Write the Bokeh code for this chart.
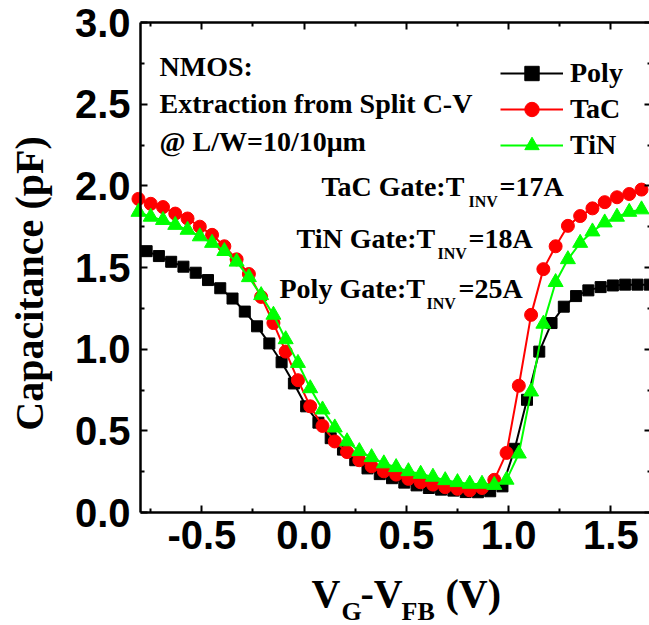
import math

from bokeh.plotting import figure
from bokeh.models import (Range1d, FixedTicker, LinearAxis, Label, Legend,
                          LegendItem, PrintfTickFormatter)
from bokeh.embed import file_html
from bokeh.resources import INLINE

# Gate bias relative to flat band (V) and measured capacitance (pF)
poly_v = [-0.77, -0.71, -0.65, -0.59, -0.53, -0.47, -0.41, -0.35, -0.29, -0.23,
          -0.17, -0.11, -0.05, 0.01, 0.07, 0.13, 0.19, 0.25, 0.31, 0.37,
          0.43, 0.49, 0.55, 0.61, 0.67, 0.73, 0.79, 0.85, 0.91, 0.97,
          1.03, 1.09, 1.15, 1.21, 1.27, 1.33, 1.39, 1.45, 1.51, 1.57,
          1.63, 1.69]
poly_c = [1.60, 1.57, 1.535, 1.505, 1.468, 1.423, 1.373, 1.31, 1.23, 1.14,
          1.035, 0.92, 0.79, 0.65, 0.55, 0.455, 0.385, 0.32, 0.27, 0.235,
          0.21, 0.183, 0.166, 0.15, 0.14, 0.134, 0.125, 0.124, 0.13, 0.16,
          0.39, 0.69, 0.985, 1.16, 1.26, 1.325, 1.36, 1.38, 1.39, 1.395,
          1.395, 1.395]

metal_v = [-0.81, -0.75, -0.69, -0.63, -0.57, -0.51, -0.45, -0.39, -0.33, -0.27,
           -0.21, -0.15, -0.09, -0.03, 0.03, 0.09, 0.15, 0.21, 0.27, 0.33,
           0.39, 0.45, 0.51, 0.57, 0.63, 0.69, 0.75, 0.81, 0.87, 0.93,
           0.99, 1.05, 1.11, 1.17, 1.23, 1.29, 1.35, 1.41, 1.47, 1.53,
           1.59, 1.65]
tac_c = [1.92, 1.89, 1.87, 1.83, 1.80, 1.75, 1.70, 1.63, 1.55, 1.46,
         1.32, 1.16, 0.985, 0.81, 0.65, 0.53, 0.435, 0.37, 0.32, 0.283,
         0.252, 0.232, 0.206, 0.185, 0.171, 0.155, 0.145, 0.136, 0.15, 0.20,
         0.365, 0.776, 1.21, 1.49, 1.63, 1.755, 1.815, 1.862, 1.90, 1.93,
         1.95, 1.977]
tin_c = [1.84, 1.81, 1.79, 1.76, 1.73, 1.69, 1.65, 1.60, 1.535, 1.44,
         1.33, 1.21, 1.06, 0.915, 0.76, 0.63, 0.52, 0.435, 0.375, 0.338,
         0.30, 0.277, 0.252, 0.236, 0.218, 0.197, 0.185, 0.175, 0.175, 0.168,
         0.20, 0.36, 0.74, 1.155, 1.41, 1.55, 1.65, 1.72, 1.775, 1.81,
         1.84, 1.855]

series_names = ["Poly", "TaC", "TiN"]
x_ticks = [-0.5, 0.0, 0.5, 1.0, 1.5]
x_minor = [-0.75, -0.25, 0.25, 0.75, 1.25]
y_ticks = [0.0, 0.5, 1.0, 1.5, 2.0, 2.5, 3.0]
y_minor = [0.25, 0.75, 1.25, 1.75, 2.25, 2.75]
x_bounds = (-0.8, 1.7)
y_bounds = (0.0, 3.0)

W, H = 649, 625
# pixel position of the axes box: left/bottom corner and scale (px per unit)
BOX_L, BOX_B = 140.0, 512.0
PX_X, PX_Y = 204.5, 163.333

SERIF = "Liberation Serif"
SANS = "Liberation Sans"
# distance (in em) by which a label's drawn baseline sits below its anchor
BASELINE_SHIFT = 0.33


def sx(px):
    return x_bounds[0] + (px - BOX_L) / PX_X


def sy(py):
    return y_bounds[0] + (BOX_B - py) / PX_Y


# the frame covers the whole canvas; the axes sit at fixed data locations
p = figure(width=W, height=H, x_range=Range1d(sx(0), sx(W)),
           y_range=Range1d(sy(H), sy(0)), x_axis_type=None, y_axis_type=None,
           output_backend="svg", toolbar_location=None, title=None,
           min_border=0, min_border_left=0, min_border_right=0,
           min_border_top=0, min_border_bottom=0)
p.outline_line_color = None
p.background_fill_color = "white"
p.border_fill_color = "white"


def make_axis(loc, ticks, minor, bounds, labels=True, standoff=8):
    ax = LinearAxis(fixed_location=loc, bounds=bounds,
                    ticker=FixedTicker(ticks=ticks, minor_ticks=minor))
    ax.major_tick_in = 7
    ax.major_tick_out = 0
    ax.minor_tick_in = 4
    ax.minor_tick_out = 0
    ax.major_tick_line_width = 2
    ax.minor_tick_line_width = 2
    ax.major_tick_line_color = "black"
    ax.minor_tick_line_color = "black"
    ax.axis_line_width = 2.5
    ax.axis_line_color = "black"
    if labels:
        ax.formatter = PrintfTickFormatter(format="%.1f")
        ax.major_label_text_font = SANS
        ax.major_label_text_font_style = "bold"
        ax.major_label_text_font_size = "40px"
        ax.major_label_text_color = "black"
        ax.major_label_standoff = standoff
    else:
        ax.major_label_text_color = None
        ax.major_label_standoff = 0
    return ax


p.add_layout(make_axis(y_bounds[0], x_ticks, x_minor, x_bounds, standoff=8), "below")
p.add_layout(make_axis(x_bounds[0], y_ticks, y_minor, y_bounds, standoff=10), "left")
p.add_layout(make_axis(y_bounds[1], x_ticks, x_minor, x_bounds, labels=False), "above")
p.add_layout(make_axis(x_bounds[1], y_ticks, y_minor, y_bounds, labels=False), "right")

# curves: line through the points, then the markers
poly_line = p.line(poly_v, poly_c, line_color="black", line_width=2)
poly_pts = p.scatter(poly_v, poly_c, marker="square", size=11, color="black")
tac_line = p.line(metal_v, tac_c, line_color="#ff0000", line_width=2)
tac_pts = p.scatter(metal_v, tac_c, marker="circle", size=13, color="#ff0000")
tin_line = p.line(metal_v, tin_c, line_color="#00ff00", line_width=2)
tin_pts = p.scatter(metal_v, tin_c, marker="triangle", size=15, color="#00ff00")

legend = Legend(items=[LegendItem(label=series_names[0], renderers=[poly_line, poly_pts]),
                       LegendItem(label=series_names[1], renderers=[tac_line, tac_pts]),
                       LegendItem(label=series_names[2], renderers=[tin_line, tin_pts])],
                location=(500, H - 55 - 108), orientation="vertical",
                glyph_width=63, glyph_height=36, label_height=36, label_standoff=7,
                spacing=0, padding=0, margin=0, border_line_color=None,
                background_fill_alpha=0, label_text_font=SERIF,
                label_text_font_style="bold", label_text_font_size="28px",
                label_text_color="black")
p.add_layout(legend)


def text(px, py, s, size, angle=0.0, align="left"):
    # (px, py) is where the text baseline should start, in canvas pixels
    shift = BASELINE_SHIFT * size
    px -= shift * math.sin(angle)
    py -= shift * math.cos(angle)
    p.add_layout(Label(x=sx(px), y=sy(py), text=s, text_font=SERIF,
                       text_font_style="bold", text_font_size=f"{size}px",
                       text_color="black", text_align=align,
                       text_baseline="alphabetic", angle=angle))


# header notes
text(159, 75, "NMOS:", 28)
text(159, 112, "Extraction from Split C-V", 28)
text(159, 150, "@ L/W=10/10\u03bcm", 28)

# inversion thickness notes
text(321, 195, "TaC Gate:T", 28)
text(468, 206, "INV", 16)
text(499, 195, "=17A", 28)
text(296, 247, "TiN Gate:T", 28)
text(437, 258, "INV", 16)
text(468, 247, "=18A", 28)
text(279, 297, "Poly Gate:T", 28)
text(426, 308, "INV", 16)
text(458, 297, "=25A", 28)

# axis titles
text(42, 283, "Capacitance (pF)", 40, angle=math.pi / 2, align="center")
text(311, 606, "V", 40)
text(341, 620, "G", 26)
text(360, 606, "-V", 40)
text(401, 620, "FB", 26)
text(445, 606, "(V)", 40)

open("out.html", "w").write(file_html(p, INLINE))
